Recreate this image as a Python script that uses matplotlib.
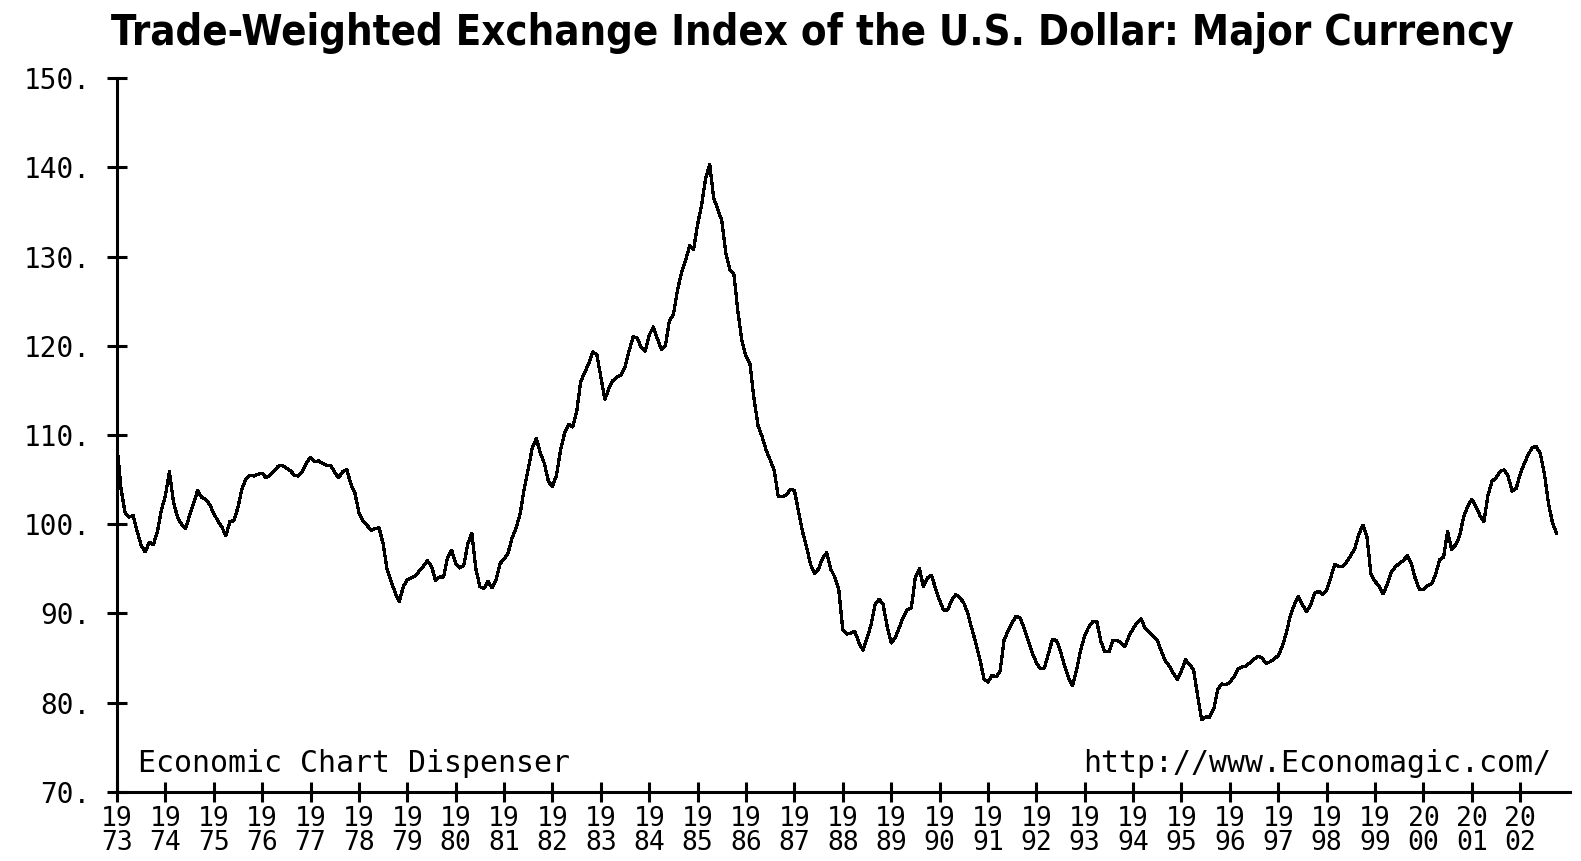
import matplotlib
matplotlib.use("Agg")
import matplotlib.pyplot as plt

# monthly index values, Jan 1973 onward
vals_1973_1979 = [
    108.8, 104.0, 101.3, 100.8, 101.0, 99.2, 97.6, 96.9, 98.0, 97.7, 99.1, 101.6,
    103.2, 105.9, 102.5, 100.8, 100.0, 99.5, 101.0, 102.3, 103.8, 103.0, 102.8, 102.2,
    101.2, 100.4, 99.7, 98.7, 100.3, 100.4, 101.9, 104.0, 105.1, 105.5, 105.4, 105.6,
    105.7, 105.2, 105.5, 106.0, 106.5, 106.6, 106.3, 106.0, 105.5, 105.4, 105.9, 106.9,
    107.5, 107.0, 107.1, 106.8, 106.6, 106.6, 105.8, 105.2, 105.9, 106.1, 104.5, 103.5,
    101.3, 100.4, 99.9, 99.3, 99.5, 99.6, 97.8, 94.9, 93.6, 92.3, 91.3, 93.0,
    93.8, 94.0, 94.2, 94.8, 95.3, 95.9, 95.3, 93.7, 94.1, 94.1, 96.3, 97.1,
]
vals_1980_1989 = [
    95.6, 95.1, 95.4, 97.8, 99.0, 95.0, 93.0, 92.8, 93.6, 92.9, 93.8, 95.6,
    96.1, 96.8, 98.5, 99.6, 101.2, 104.0, 106.2, 108.6, 109.6, 108.0, 106.8, 104.8,
    104.2, 105.5, 108.3, 110.2, 111.2, 110.9, 112.6, 116.0, 117.0, 118.0, 119.3, 119.0,
    116.5, 114.0, 115.2, 116.1, 116.5, 116.7, 117.6, 119.4, 121.0, 120.9, 119.8, 119.4,
    121.2, 122.1, 120.8, 119.6, 120.0, 122.8, 123.5, 126.2, 128.2, 129.5, 131.2, 130.8,
    133.6, 135.8, 138.8, 140.3, 136.5, 135.3, 134.0, 130.4, 128.5, 128.0, 123.8, 120.5,
    118.8, 117.9, 114.0, 111.0, 109.8, 108.3, 107.2, 106.0, 103.1, 103.1, 103.3, 103.9,
    103.8, 101.5, 99.2, 97.5, 95.5, 94.5, 95.0, 96.2, 96.8, 95.0, 94.1, 92.7,
    88.2, 87.7, 87.8, 88.0, 86.7, 85.9, 87.2, 88.7, 91.0, 91.6, 91.0, 88.6,
    86.7, 87.3, 88.4, 89.6, 90.4, 90.6, 94.1, 95.0, 93.0, 94.0, 94.3, 92.8,
]
vals_1990_2002 = [
    91.5, 90.4, 90.4, 91.5, 92.1, 91.8, 91.2, 90.0, 88.3, 86.7, 84.9, 82.7,
    82.3, 83.1, 82.9, 83.5, 87.0, 88.1, 89.0, 89.7, 89.5, 88.3, 86.9, 85.6,
    84.5, 83.8, 83.9, 85.5, 87.1, 87.0, 85.8, 84.1, 82.8, 81.9, 83.7, 85.9,
    87.5, 88.5, 89.1, 89.1, 86.9, 85.7, 85.7, 87.0, 87.0, 86.7, 86.3, 87.5,
    88.3, 89.0, 89.4, 88.3, 87.9, 87.4, 87.0, 85.8, 84.7, 84.1, 83.3, 82.6,
    83.6, 84.8, 84.3, 83.7, 80.8, 78.1, 78.4, 78.4, 79.3, 81.5, 82.1, 82.0,
    82.3, 82.9, 83.8, 84.0, 84.1, 84.5, 84.9, 85.2, 85.0, 84.4, 84.6, 84.9,
    85.3, 86.3, 87.8, 89.8, 91.0, 91.9, 91.0, 90.2, 90.9, 92.3, 92.5, 92.1,
    92.6, 94.0, 95.5, 95.3, 95.3, 95.8, 96.5, 97.3, 98.9, 99.9, 98.6, 94.4,
    93.6, 93.1, 92.2, 93.2, 94.6, 95.2, 95.6, 95.9, 96.5, 95.6, 93.9, 92.7,
    92.7, 93.1, 93.3, 94.3, 96.0, 96.3, 99.2, 97.2, 97.7, 98.7, 100.9, 102.0,
    102.8, 102.0, 101.0, 100.3, 103.2, 104.8, 105.2, 105.9, 106.1, 105.4, 103.7, 104.0,
    105.6, 106.8, 107.8, 108.6, 108.7, 107.9, 105.7, 102.4, 100.2, 99.0,
]

first_year = 1973
tick_years = list(range(1973, 2003))
y_ticks = [70, 80, 90, 100, 110, 120, 130, 140, 150]

values = vals_1973_1979 + vals_1980_1989 + vals_1990_2002
dates = [first_year + i / 12.0 for i in range(len(values))]

W, H = 1581, 861
fig = plt.figure(figsize=(W / 100, H / 100), dpi=100)
ax = fig.add_axes([117 / W, 1 - 792 / H, (1570 - 117) / W, (792 - 78) / H])

ax.plot(dates, values, color="black", lw=1.6, antialiased=False)

ax.set_xlim(1973, 2003.03)
ax.set_ylim(70, 150)

for side in ["top", "right"]:
    ax.spines[side].set_visible(False)
for side in ["left", "bottom"]:
    ax.spines[side].set_linewidth(2.2)

mono = "DejaVu Sans Mono"
ax.set_yticks(y_ticks)
ax.set_yticklabels([f"{v}." for v in y_ticks], fontfamily=mono, fontsize=20)
ax.set_xticks(tick_years)
ax.set_xticklabels([f"{str(y)[:2]}\n{str(y)[2:]}" for y in tick_years],
                   fontfamily=mono, fontsize=19, linespacing=0.9)
ax.tick_params(axis="both", direction="inout", length=14, width=2.2)
ax.tick_params(axis="y", pad=12)
ax.tick_params(axis="x", pad=3)

ax.text(138 / W, 1 - 764 / H, "Economic Chart Dispenser", transform=fig.transFigure,
        fontfamily=mono, fontsize=21.5, va="center", ha="left")
ax.text(1551 / W, 1 - 764 / H, "http://www.Economagic.com/", transform=fig.transFigure,
        fontfamily=mono, fontsize=21.5, va="center", ha="right")

fig.text(812 / W, 1 - 33 / H,
         "Trade-Weighted Exchange Index of the U.S. Dollar: Major Currency",
         ha="center", va="center", fontsize=30, fontweight="bold",
         fontfamily="DejaVu Sans", fontstretch="condensed")

fig.savefig("out.png", dpi=100)
